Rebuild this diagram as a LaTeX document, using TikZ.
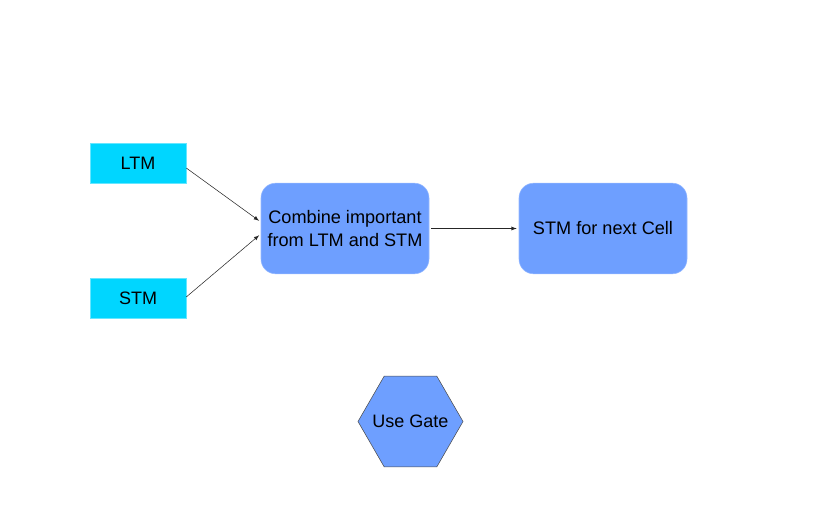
\documentclass[tikz,border=0pt]{standalone}
\usepackage{fontspec}
\setmainfont{Liberation Sans}
\usetikzlibrary{shapes.geometric}
\definecolor{memcyan}{RGB}{0,214,255}
\definecolor{cellblue}{RGB}{110,159,255}
\definecolor{celledge}{RGB}{150,185,255}
\tikzset{
    membox/.style={fill=memcyan, draw=memcyan!60!white, minimum width=72pt, minimum height=30pt, inner sep=0pt, font=\fontsize{13.5}{16}\selectfont},
    cellbox/.style={fill=cellblue, draw=celledge, rounded corners=11pt, minimum width=126pt, minimum height=68pt, align=center, inner sep=0pt, font=\fontsize{13.6}{17}\selectfont},
    gatehex/.style={regular polygon, regular polygon sides=6, minimum size=78.75pt, inner sep=0pt, fill=cellblue, draw=black!70, font=\fontsize{13.5}{16}\selectfont},
    flow/.style={->, draw=black!85, thin, shorten >=1.5pt}
}
\begin{document}
\begin{tikzpicture}[>=latex, x=0.75pt, y=-0.75pt]
    \useasboundingbox (0,0) rectangle (819,510);
    % memories
    \node[membox] (ltm) at (138,163) {LTM};
    \node[membox] (stm) at (138,298) {STM};
    % cells
    \node[cellbox] (combine) at (345,228.5) {Combine important\\from LTM and STM};
    \node[cellbox] (next) at (603,228.5) {STM for next Cell};
    % gate
    \node[gatehex] (gate) at (410.5,421.5) {\makebox[0pt]{Use Gate}};
    % arrows
    \draw[flow] ([yshift=-3.75pt]ltm.east) -- ([yshift=4.9pt]combine.west);
    \draw[flow] ([yshift=0.75pt]stm.east) -- ([yshift=-4.1pt]combine.west);
    \draw[flow] ([xshift=1.5pt]combine.east) -- (next.west);
\end{tikzpicture}
\end{document}
